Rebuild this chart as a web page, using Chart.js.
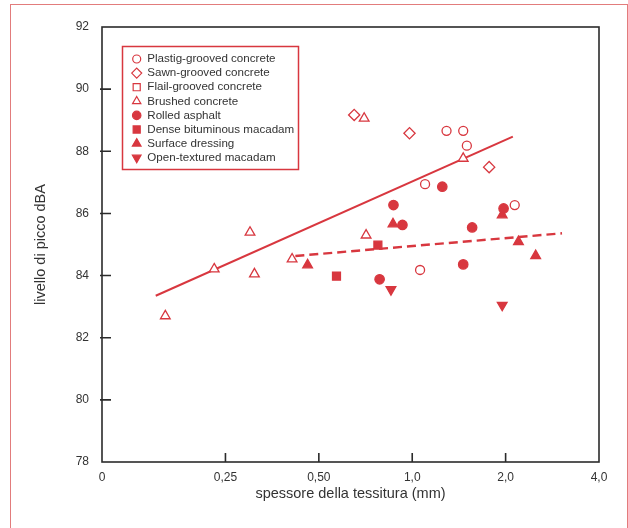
<!DOCTYPE html>
<html>
<head>
<meta charset="utf-8">
<script src="https://cdn.jsdelivr.net/npm/chart.js@4.4.1/dist/chart.umd.min.js"></script>
<style>
  html, body { margin: 0; padding: 0; background: #fff; }
  #wrap { position: relative; width: 628px; height: 528px; overflow: hidden; }
  #pagina { position: absolute; left: 10px; top: 4px; width: 616px; height: 600px; border: 1px solid #e27c7c; }
  canvas { position: absolute; left: 0; top: 0; }
</style>
</head>
<body>
<div id="wrap">
  <div id="pagina"></div>
  <canvas id="grafico" width="628" height="528"></canvas>
</div>
<script>
const ROSSO = '#d8373f';

// nomi delle serie (legenda)
const serie = ['Plastig-grooved concrete', 'Sawn-grooved concrete', 'Flail-grooved concrete', 'Brushed concrete',
  'Rolled asphalt', 'Dense bituminous macadam', 'Surface dressing', 'Open-textured macadam'];

// spessore della tessitura (mm) / livello di picco (dBA)
const plastigX = [1.29, 1.46, 1.50, 1.10, 1.06, 2.14];
const plastigY = [88.66, 88.66, 88.18, 86.94, 84.18, 86.27];
const sawnX = [0.65, 0.98, 1.77];
const sawnY = [89.17, 88.58, 87.49];
const flailX = [];
const flailY = [];
const brushedX = [0.16, 0.23, 0.30, 0.31, 0.41, 0.70, 0.71, 1.46];
const brushedY = [82.70, 84.21, 85.39, 84.05, 84.53, 89.06, 85.30, 87.77];
const rolledX = [0.87, 0.93, 1.25, 1.56, 1.97, 1.46, 0.785];
const rolledY = [86.27, 85.63, 86.86, 85.55, 86.16, 84.36, 83.88];
const denseX = [0.57, 0.775];
const denseY = [83.98, 84.98];
const surfaceX = [0.46, 0.867, 1.95, 2.20, 2.50];
const surfaceY = [84.34, 85.66, 85.95, 85.09, 84.64];
const openX = [0.854, 1.95];
const openY = [83.55, 83.05];

// rette di regressione
const rettaX = [0.149, 2.11];
const rettaY = [83.35, 88.47];
const trattX = [0.42, 3.04];
const trattY = [84.63, 85.36];

// etichette degli assi
const xTickVal = [0.1, 0.25, 0.5, 1, 2, 4];
const xTickLab = ['0', '0,25', '0,50', '1,0', '2,0', '4,0'];
const yTickVal = [78, 80, 82, 84, 86, 88, 90, 92];

function punti(xs, ys) {
  return xs.map((x, i) => ({ x: x, y: ys[i] }));
}

// stile dei simboli: [pointStyle, rotazione, pieno, raggio, raggio in legenda]
const simboli = [
  ['circle', 0, false, 4.5, 4],
  ['rectRot', 0, false, 5.6, 5],
  ['rect', 0, false, 5.6, 5],
  ['triangle', 0, false, 5.6, 4.8],
  ['circle', 0, true, 4.7, 4.2],
  ['rect', 0, true, 5.6, 5],
  ['triangle', 0, true, 5.6, 5],
  ['triangle', 180, true, 5.6, 5]
];
const datiSerie = [
  punti(plastigX, plastigY), punti(sawnX, sawnY), punti(flailX, flailY), punti(brushedX, brushedY),
  punti(rolledX, rolledY), punti(denseX, denseY), punti(surfaceX, surfaceY), punti(openX, openY)
];

const datasets = serie.map((nome, i) => ({
  label: nome,
  data: datiSerie[i],
  pointStyle: simboli[i][0],
  rotation: simboli[i][1],
  pointRadius: simboli[i][3],
  backgroundColor: simboli[i][2] ? ROSSO : '#fff',
  borderColor: ROSSO,
  borderWidth: 1.3
}));

datasets.push({
  label: 'retta',
  data: punti(rettaX, rettaY),
  showLine: true,
  pointRadius: 0,
  borderColor: ROSSO,
  borderWidth: 2
});
datasets.push({
  label: 'tratteggio',
  data: punti(trattX, trattY),
  showLine: true,
  pointRadius: 0,
  borderColor: ROSSO,
  borderWidth: 2.4,
  borderDash: [9, 5]
});

// cornice, tacche interne e legenda
const cornice = {
  id: 'cornice',
  afterDraw(chart) {
    const ctx = chart.ctx;
    const a = chart.chartArea;
    const sx = chart.scales.x, sy = chart.scales.y;
    ctx.save();
    ctx.strokeStyle = '#2b2b2b';
    ctx.lineWidth = 1.6;
    ctx.strokeRect(a.left, a.top, a.right - a.left, a.bottom - a.top);
    ctx.beginPath();
    xTickVal.slice(1, -1).forEach(v => {
      const px = sx.getPixelForValue(v);
      ctx.moveTo(px, a.bottom);
      ctx.lineTo(px, a.bottom - 9);
    });
    yTickVal.slice(1, -1).forEach(v => {
      const py = sy.getPixelForValue(v);
      ctx.moveTo(a.left - 2, py);
      ctx.lineTo(a.left + 9, py);
    });
    ctx.stroke();

    // legenda
    const bx = 122.5, by = 46.5, bw = 176, bh = 123;
    ctx.fillStyle = '#fff';
    ctx.fillRect(bx, by, bw, bh);
    ctx.strokeStyle = ROSSO;
    ctx.lineWidth = 1.5;
    ctx.strokeRect(bx, by, bw, bh);
    ctx.font = '11.6px "Liberation Sans", Arial, sans-serif';
    ctx.textBaseline = 'middle';
    ctx.textAlign = 'left';
    serie.forEach((nome, i) => {
      const y = 59 + i * 14.1;
      ctx.fillStyle = simboli[i][2] ? ROSSO : '#fff';
      ctx.strokeStyle = ROSSO;
      ctx.lineWidth = 1.2;
      Chart.helpers.drawPoint(ctx, {
        pointStyle: simboli[i][0], rotation: simboli[i][1], radius: simboli[i][4], borderWidth: 1.2
      }, 136.7, y);
      ctx.fillStyle = '#333';
      ctx.fillText(nome, 147.3, y);
    });
    ctx.restore();
  }
};

new Chart(document.getElementById('grafico'), {
  type: 'scatter',
  data: { datasets: datasets },
  options: {
    responsive: false,
    animation: false,
    layout: { padding: { top: 27, right: 29, left: 0, bottom: 0 } },
    plugins: {
      legend: { display: false },
      tooltip: { enabled: false }
    },
    scales: {
      x: {
        type: 'logarithmic',
        min: 0.1,
        max: 4,
        afterBuildTicks: scale => { scale.ticks = xTickVal.map(v => ({ value: v })); },
        afterFit: scale => { scale.height = 66; },
        grid: { display: false, drawTicks: false },
        border: { display: false },
        ticks: {
          autoSkip: false,
          maxRotation: 0,
          padding: 8,
          color: '#333',
          font: { family: '"Liberation Sans", Arial, sans-serif', size: 12 },
          callback: (v, i) => xTickLab[i]
        },
        title: {
          display: true,
          text: 'spessore della tessitura (mm)',
          color: '#333',
          font: { family: '"Liberation Sans", Arial, sans-serif', size: 14.5 },
          padding: { top: 0, bottom: 25 }
        }
      },
      y: {
        min: 78,
        max: 92,
        afterBuildTicks: scale => { scale.ticks = yTickVal.map(v => ({ value: v })); },
        afterFit: scale => { scale.width = 102; },
        grid: { display: false, drawTicks: false },
        border: { display: false },
        ticks: {
          padding: 13,
          color: '#333',
          font: { family: '"Liberation Sans", Arial, sans-serif', size: 12 }
        },
        title: {
          display: true,
          text: 'livello di picco dBA',
          color: '#333',
          font: { family: '"Liberation Sans", Arial, sans-serif', size: 14.5 },
          padding: { top: 32, bottom: 0 }
        }
      }
    }
  },
  plugins: [cornice]
});
</script>
</body>
</html>
